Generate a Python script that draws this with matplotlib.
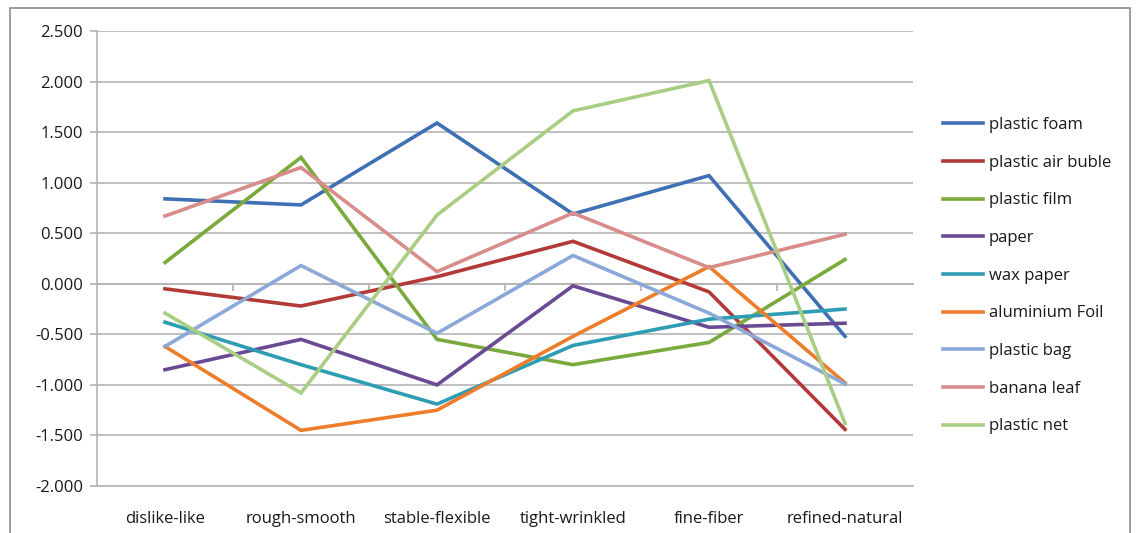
import numpy as np
import matplotlib.pyplot as plt
from matplotlib.patches import Rectangle
from matplotlib.ticker import FormatStrFormatter

plt.rcParams['font.family'] = ['Open Sans', 'DejaVu Sans']

categories = ['dislike-like', 'rough-smooth', 'stable-flexible',
              'tight-wrinkled', 'fine-fiber', 'refined-natural']

plastic_foam = [0.84, 0.78, 1.59, 0.69, 1.07, -0.52]
plastic_air_buble = [-0.05, -0.22, 0.07, 0.42, -0.08, -1.44]
plastic_film = [0.21, 1.25, -0.55, -0.80, -0.58, 0.24]
paper = [-0.85, -0.55, -1.00, -0.02, -0.43, -0.39]
wax_paper = [-0.38, -0.80, -1.19, -0.61, -0.35, -0.25]
aluminium_foil = [-0.62, -1.45, -1.25, -0.52, 0.17, -0.98]
plastic_bag = [-0.62, 0.18, -0.49, 0.28, -0.29, -0.99]
banana_leaf = [0.67, 1.15, 0.12, 0.70, 0.16, 0.49]
plastic_net = [-0.29, -1.08, 0.68, 1.71, 2.01, -1.38]

series = [
    ('plastic foam', plastic_foam, '#3F70B3'),
    ('plastic air buble', plastic_air_buble, '#B23B3A'),
    ('plastic film', plastic_film, '#7AA93C'),
    ('paper', paper, '#6A4B93'),
    ('wax paper', wax_paper, '#2E9DB4'),
    ('aluminium Foil', aluminium_foil, '#EE7D2B'),
    ('plastic bag', plastic_bag, '#8AA8D8'),
    ('banana leaf', banana_leaf, '#D88D8B'),
    ('plastic net', plastic_net, '#AACD84'),
]

grid_col = '#B4B4B4'

fig = plt.figure(figsize=(11.37, 5.33), dpi=100)
ax = fig.add_axes([97 / 1137, 1 - 486 / 533, 816 / 1137, 455 / 533])

x = np.arange(len(categories))
for name, vals, col in series:
    ax.plot(x, vals, color=col, linewidth=2.6, label=name, solid_joinstyle='miter')

ax.set_xlim(-0.5, len(categories) - 0.5)
ax.set_ylim(-2.0, 2.5)
ax.set_yticks(np.arange(-2.0, 2.51, 0.5))
ax.yaxis.set_major_formatter(FormatStrFormatter('%.3f'))
ax.yaxis.grid(True, color=grid_col, linewidth=1.2)
ax.set_axisbelow(True)

ax.set_xticks(x)
ax.set_xticklabels(categories)
ax.tick_params(axis='x', length=0, pad=18, labelsize=12, colors='#1A1A1A')
ax.tick_params(axis='y', length=5, width=1.2, color=grid_col, pad=5,
               labelsize=12, labelcolor='#1A1A1A')

for side in ['top', 'right']:
    ax.spines[side].set_visible(False)
ax.spines['left'].set_color(grid_col)
ax.spines['left'].set_linewidth(1.2)
ax.spines['bottom'].set_color(grid_col)
ax.spines['bottom'].set_linewidth(1.2)

# category axis crossing at zero, with ticks between categories
zero_axis = ax.secondary_xaxis(2.0 / 4.5)
zero_axis.set_xticks(np.arange(0.5, len(categories) - 0.5, 1.0))
zero_axis.set_xticklabels([])
zero_axis.tick_params(length=5, width=1.2, color=grid_col, direction='out')
zero_axis.spines['bottom'].set_color(grid_col)
zero_axis.spines['bottom'].set_linewidth(1.2)
zero_axis.spines['top'].set_visible(False)

fig.legend(loc='upper left', bbox_to_anchor=(943 / 1137, 1 - 117 / 533),
           frameon=False, fontsize=12, labelspacing=1.3, handlelength=2.4,
           handletextpad=0.35, borderpad=0, borderaxespad=0,
           labelcolor='#1A1A1A')

# chart area border
fig.patches.append(Rectangle((10 / 1137, -0.02), 1120 / 1137, 1 - 8 / 533 + 0.02,
                             transform=fig.transFigure, fill=False,
                             edgecolor='#8C8C8C', linewidth=1.2))

fig.savefig('out.png', dpi=100)
